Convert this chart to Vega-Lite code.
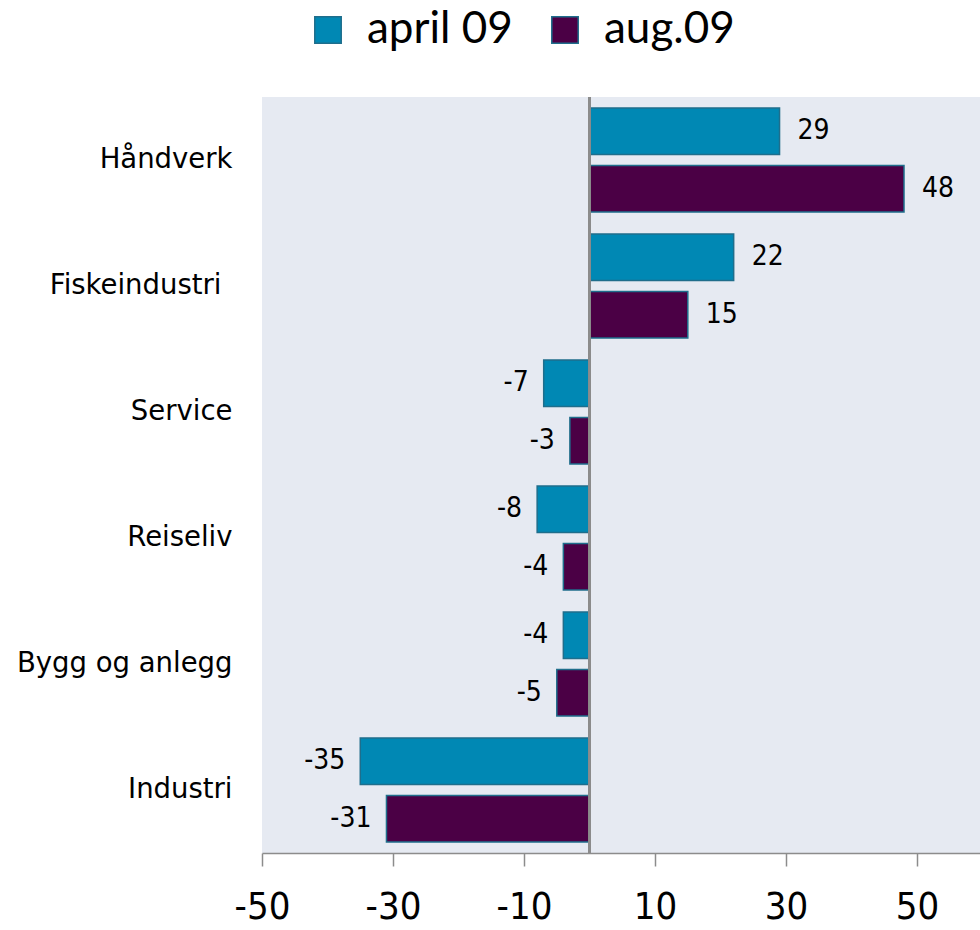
{
  "$schema": "https://vega.github.io/schema/vega-lite/v6.json",
  "autosize": {"type": "none"},
  "padding": {"left": 262, "top": 97, "right": 0, "bottom": 77},
  "width": 718,
  "height": 756,
  "background": "#ffffff",
  "config": {
    "view": {"fill": "#E6EAF2", "stroke": null}
  },
  "data": {
    "values": [
      {"kategori": "Håndverk", "periode": "april 09", "verdi": 29},
      {"kategori": "Håndverk", "periode": "aug.09", "verdi": 48},
      {"kategori": "Fiskeindustri", "periode": "april 09", "verdi": 22},
      {"kategori": "Fiskeindustri", "periode": "aug.09", "verdi": 15},
      {"kategori": "Service", "periode": "april 09", "verdi": -7},
      {"kategori": "Service", "periode": "aug.09", "verdi": -3},
      {"kategori": "Reiseliv", "periode": "april 09", "verdi": -8},
      {"kategori": "Reiseliv", "periode": "aug.09", "verdi": -4},
      {"kategori": "Bygg og anlegg", "periode": "april 09", "verdi": -4},
      {"kategori": "Bygg og anlegg", "periode": "aug.09", "verdi": -5},
      {"kategori": "Industri", "periode": "april 09", "verdi": -35},
      {"kategori": "Industri", "periode": "aug.09", "verdi": -31}
    ]
  },
  "encoding": {
    "y": {
      "field": "kategori",
      "type": "nominal",
      "sort": ["Håndverk", "Fiskeindustri", "Service", "Reiseliv", "Bygg og anlegg", "Industri"],
      "scale": {"paddingInner": 0, "paddingOuter": 0},
      "axis": {
        "title": null,
        "domain": false,
        "ticks": false,
        "labelFont": "DejaVu Sans",
        "labelFontSize": 27.5,
        "labelColor": "#000000",
        "labelPadding": {"condition": {"test": "datum.value === 'Fiskeindustri'", "value": 41}, "value": 30},
        "labelLimit": 400
      }
    },
    "yOffset": {
      "field": "periode",
      "type": "nominal",
      "sort": ["april 09", "aug.09"],
      "scale": {"paddingInner": 0.19, "paddingOuter": 0.19}
    }
  },
  "layer": [
    {
      "mark": {"type": "bar", "stroke": "#1F6E8C", "strokeWidth": 1.5},
      "encoding": {
        "x": {
          "field": "verdi",
          "type": "quantitative",
          "scale": {"domain": [-50, 59.6], "nice": false, "zero": false},
          "axis": {
            "title": null,
            "grid": false,
            "values": [-50, -30, -10, 10, 30, 50],
            "domainColor": "#8C8C8C",
            "domainWidth": 1.5,
            "tickColor": "#8C8C8C",
            "tickWidth": 1.5,
            "tickSize": 13,
            "labelFont": "DejaVu Sans Condensed",
            "labelFontSize": 38,
            "labelColor": "#000000",
            "labelPadding": 22,
            "labelFlush": false,
            "labelExpr": "toString(datum.value)"
          }
        },
        "color": {
          "field": "periode",
          "type": "nominal",
          "scale": {"domain": ["april 09", "aug.09"], "range": ["#0088B4", "#4B0045"]},
          "legend": {
            "title": null,
            "orient": "none",
            "direction": "horizontal",
            "legendX": 44,
            "legendY": -89,
            "symbolType": "square",
            "symbolSize": 700,
            "symbolStrokeColor": "#1F6E8C",
            "symbolStrokeWidth": 1.5,
            "symbolOpacity": 1,
            "labelFont": "Lato",
            "labelFontSize": 44,
            "labelColor": "#000000",
            "labelOffset": 17,
            "columnPadding": 30,
            "labelLimit": 400
          }
        }
      }
    },
    {
      "mark": {"type": "rule", "color": "#8C8C8C", "strokeWidth": 2},
      "encoding": {"x": {"datum": 0}, "y": {"value": 0}, "y2": {"value": 756}, "yOffset": null}
    },
    {
      "transform": [{"filter": "datum.verdi >= 0"}],
      "mark": {"type": "text", "align": "left", "baseline": "middle", "dx": 18, "font": "DejaVu Sans Condensed", "fontSize": 28, "color": "#000000", "text": {"expr": "toString(datum.verdi)"}},
      "encoding": {
        "x": {"field": "verdi", "type": "quantitative"}
      }
    },
    {
      "transform": [{"filter": "datum.verdi < 0"}],
      "mark": {"type": "text", "align": "right", "baseline": "middle", "dx": -15, "font": "DejaVu Sans Condensed", "fontSize": 28, "color": "#000000", "text": {"expr": "toString(datum.verdi)"}},
      "encoding": {
        "x": {"field": "verdi", "type": "quantitative"}
      }
    }
  ]
}
